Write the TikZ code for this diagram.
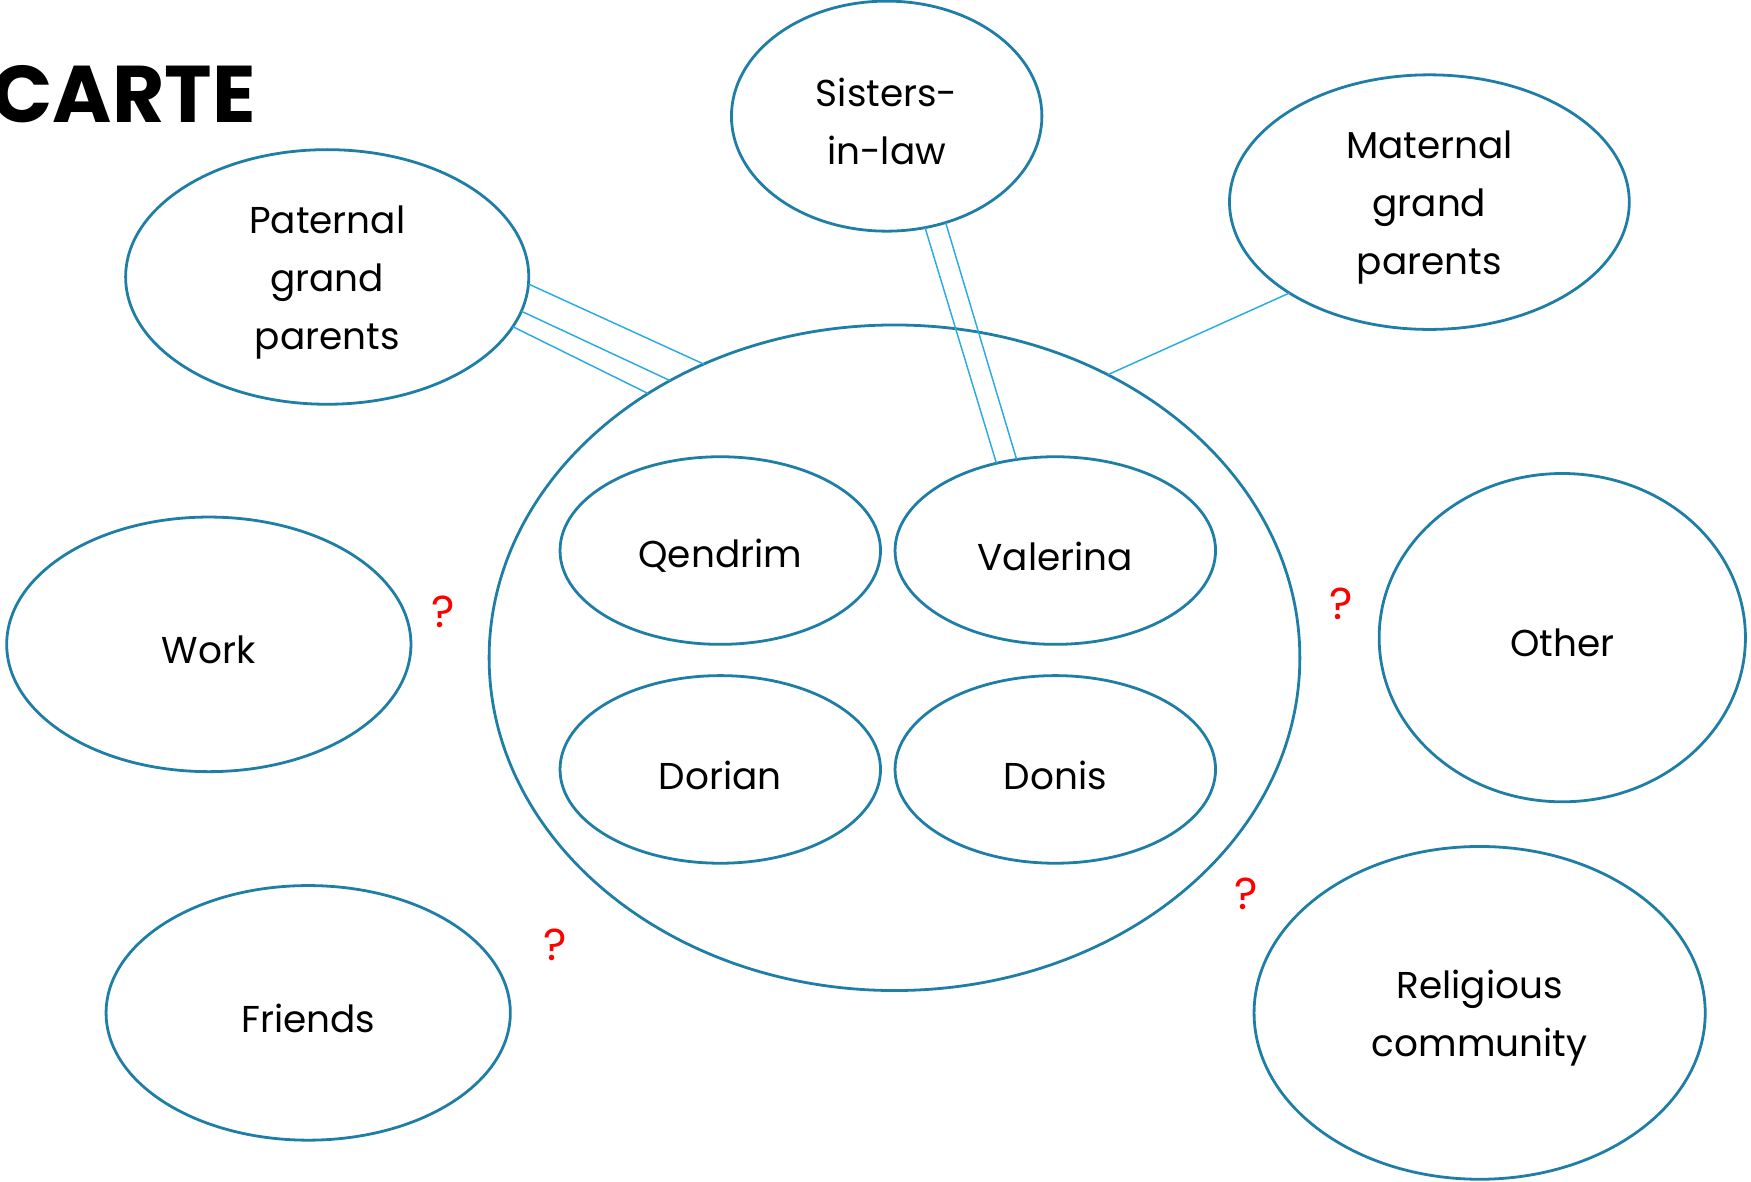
\documentclass[tikz,border=0pt]{standalone}
\usepackage{fontspec}
\setmainfont{Poppins}
\usetikzlibrary{shapes.geometric}
\definecolor{ring}{RGB}{31,126,166}
\definecolor{linkc}{RGB}{41,171,226}
\definecolor{qred}{RGB}{255,0,0}
\begin{document}
\begin{tikzpicture}[x=1pt,y=-1pt,
  bub/.style={ellipse, draw=ring, line width=2.5pt, inner sep=0pt, outer sep=0pt},
  txt/.style={align=center, inner sep=0pt, yshift=-5pt, font=\fontsize{33.5}{52}\selectfont},
  conn/.style={draw=linkc, line width=1.3pt},
  qmark/.style={text=qred, font=\fontsize{40}{44}\selectfont, inner sep=0pt}]
\useasboundingbox (0,0) rectangle (1568,1058);
\node[anchor=base east, inner sep=0pt, font=\fontsize{72}{72}\selectfont\bfseries] (title) at (229,110) {CARTE};
\node[bub, minimum width=726pt, minimum height=596pt] (fam) at (801,589) {};
\node[bub, minimum width=278pt, minimum height=206pt, label={[txt]center:Sisters-\\in-law}] (sis) at (794,104) {};
\node[bub, minimum width=358pt, minimum height=228pt, label={[txt]center:Maternal\\grand\\parents}] (mat) at (1280,181) {};
\node[bub, minimum width=361pt, minimum height=228pt, label={[txt]center:Paternal\\grand\\parents}] (pat) at (293,248) {};
\node[bub, minimum width=287pt, minimum height=168pt, label={[txt]center:Qendrim}] (qen) at (645,493) {};
\node[bub, minimum width=287pt, minimum height=168pt, label={[txt]center:Valerina}] (val) at (945,493) {};
\node[bub, minimum width=287pt, minimum height=168pt, label={[txt]center:Dorian}] (dor) at (645,689) {};
\node[bub, minimum width=287pt, minimum height=168pt, label={[txt]center:Donis}] (don) at (945,689) {};
\node[bub, minimum width=362pt, minimum height=228pt, label={[txt]center:Work}] (work) at (187,577) {};
\node[bub, minimum width=362pt, minimum height=228pt, label={[txt]center:Friends}] (fri) at (276,907) {};
\node[bub, minimum width=328pt, minimum height=294pt, label={[txt]center:Other}] (oth) at (1399,571) {};
\node[bub, minimum width=404pt, minimum height=298pt, label={[txt]center:Religious\\community}] (rel) at (1325,907) {};
\node[qmark] (q1) at (397,548) {?};
\node[qmark] (q2) at (1201,541) {?};
\node[qmark] (q3) at (1116,800) {?};
\node[qmark] (q4) at (497,846) {?};
\draw[conn] (pat.-2.5) -- (fam.123.6);
\draw[conn] (pat.-10) -- (fam.129.7);
\draw[conn] (pat.-15.6) -- (fam.133.5);
\draw[conn] (sis.-71.4) -- (val.124);
\draw[conn] (sis.-61.6) -- (val.113.2);
\draw[conn] (mat.-147.5) -- (fam.53);
\end{tikzpicture}
\end{document}
